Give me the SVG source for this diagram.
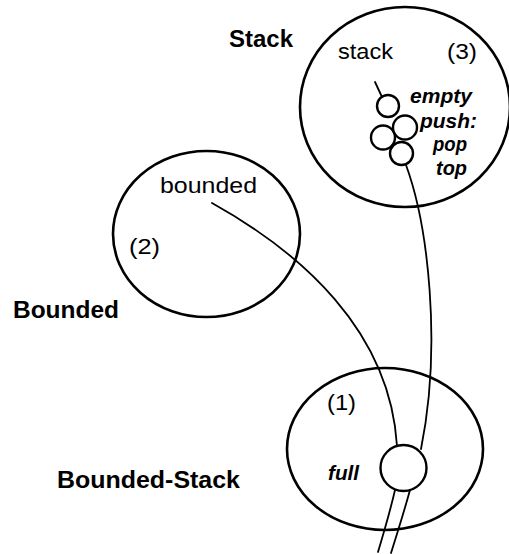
<svg xmlns="http://www.w3.org/2000/svg" width="509" height="554" viewBox="0 0 509 554">
<style>
  .bg { fill: #ffffff; }
  .class { fill: none; stroke: #000; stroke-width: 2.6; }
  .port { fill: #fff; stroke: #000; stroke-width: 2.4; }
  .wire { fill: none; stroke: #000; stroke-width: 1.8; stroke-linecap: round; }
  .title { font-family: "Liberation Sans", Arial, sans-serif; font-weight: bold; font-size: 23px; fill: #000; }
  .name { font-family: "Liberation Sans", Arial, sans-serif; font-size: 22px; fill: #000; }
  .op { font-family: "Liberation Sans", Arial, sans-serif; font-weight: bold; font-style: italic; font-size: 21px; fill: #000; }
</style>
<rect class="bg" x="0" y="0" width="509" height="554"/>

<g id="connectors">
  <path class="wire" d="M212,203 C300,252 390,330 397,446"/>
  <path class="wire" d="M406,165 C428,225 442,345 421,449"/>
  <path class="wire" d="M375,82 L382,97"/>
  <path class="wire" d="M395,490 C390,512 384,532 378,552"/>
  <path class="wire" d="M410,490 C404,512 397,534 391,553"/>
</g>

<g id="node-stack">
  <ellipse class="class" cx="405" cy="107" rx="105" ry="100"/>
  <text class="title" x="229" y="47" textLength="64" lengthAdjust="spacingAndGlyphs">Stack</text>
  <text class="name" x="338" y="59" textLength="55" lengthAdjust="spacingAndGlyphs">stack</text>
  <text class="name" x="447" y="59" textLength="30" lengthAdjust="spacingAndGlyphs">(3)</text>
  <circle class="port" cx="388" cy="106" r="11"/>
  <circle class="port" cx="383" cy="137.5" r="12"/>
  <circle class="port" cx="405" cy="127.5" r="12"/>
  <circle class="port" cx="401.5" cy="153.5" r="11.5"/>
  <text class="op" x="410" y="103" textLength="62" lengthAdjust="spacingAndGlyphs">empty</text>
  <text class="op" x="420" y="128" textLength="57" lengthAdjust="spacingAndGlyphs">push:</text>
  <text class="op" x="433" y="151" textLength="34" lengthAdjust="spacingAndGlyphs">pop</text>
  <text class="op" x="436" y="175" textLength="31" lengthAdjust="spacingAndGlyphs">top</text>
</g>

<g id="node-bounded">
  <ellipse class="class" cx="206.5" cy="234" rx="93.5" ry="83"/>
  <text class="title" x="13" y="318" textLength="106" lengthAdjust="spacingAndGlyphs">Bounded</text>
  <text class="name" x="160" y="193" textLength="97" lengthAdjust="spacingAndGlyphs">bounded</text>
  <text class="name" x="129" y="254" textLength="31" lengthAdjust="spacingAndGlyphs">(2)</text>
</g>

<g id="node-bounded-stack">
  <ellipse class="class" cx="385" cy="449" rx="98" ry="81"/>
  <text class="title" x="57" y="488" textLength="183" lengthAdjust="spacingAndGlyphs">Bounded-Stack</text>
  <text class="name" x="327" y="410" textLength="29" lengthAdjust="spacingAndGlyphs">(1)</text>
  <text class="op" x="328" y="480" textLength="31" lengthAdjust="spacingAndGlyphs">full</text>
  <circle class="port" cx="403.5" cy="468" r="23"/>
</g>
</svg>
